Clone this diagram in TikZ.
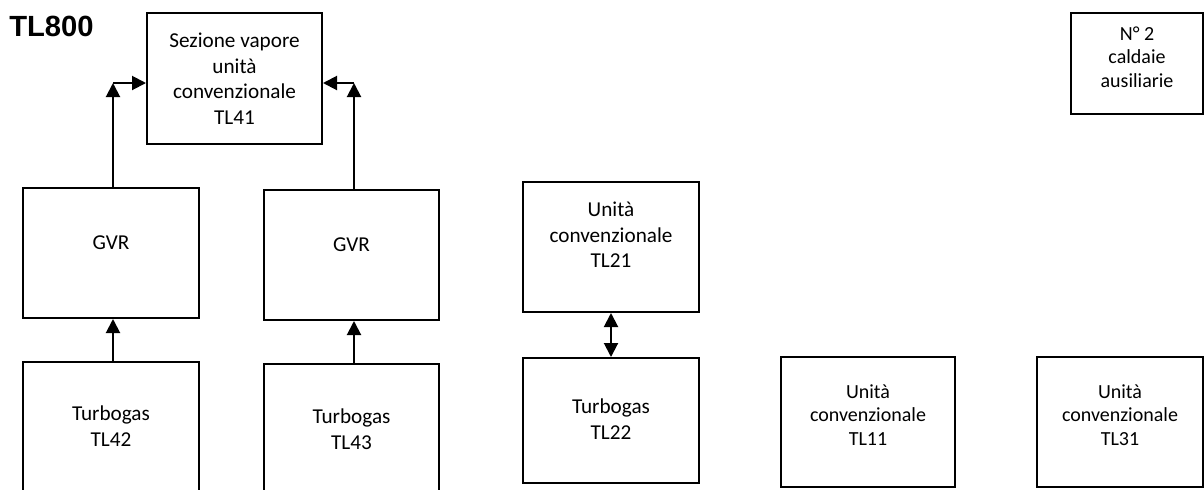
\documentclass[tikz,border=0pt]{standalone}
\usepackage{fontspec}
\setmainfont{Carlito}
\newfontfamily\arialbold{Liberation Sans}
\usetikzlibrary{arrows.meta}
\tikzset{
  box/.style={draw, line width=1pt, rectangle, inner sep=0pt},
  txt/.style={align=center, inner sep=0pt, font=\fontsize{10.6pt}{12.8pt}\selectfont},
  txts/.style={align=center, inner sep=0pt, font=\fontsize{10pt}{11.8pt}\selectfont},
  arr/.style={line width=1pt, -{Triangle[length=7pt,width=7pt]}},
  darr/.style={line width=1pt, {Triangle[length=7pt,width=7pt]}-{Triangle[length=7pt,width=7pt]}},
}
\begin{document}
\begin{tikzpicture}[x=0.5pt,y=-0.5pt]
\clip (0,0) rectangle (1204,489);
% boxes
\node[box, minimum width=87.5pt, minimum height=65.5pt] (tl41) at (234.5,78.5) {};
\node[box, minimum width=88pt, minimum height=65pt] (gvr1) at (111,253) {};
\node[box, minimum width=87.5pt, minimum height=65pt] (gvr2) at (351.5,255) {};
\node[box, minimum width=88pt, minimum height=100pt] (tg42) at (111,462) {};
\node[box, minimum width=87.5pt, minimum height=100pt] (tg43) at (351.5,464) {};
\node[box, minimum width=88pt, minimum height=65pt] (tl21) at (611,247) {};
\node[box, minimum width=88pt, minimum height=62.5pt] (tl22) at (611,420.5) {};
\node[box, minimum width=87pt, minimum height=65pt] (tl11) at (868,422) {};
\node[box, minimum width=83pt, minimum height=65pt] (tl31) at (1120,422) {};
\node[box, minimum width=66pt, minimum height=50.5pt] (aux) at (1137,63.5) {};
% texts
\node[inner sep=0pt, font=\arialbold\bfseries\fontsize{14.6pt}{16pt}\selectfont] (title) at (51.5,26) {TL800};
\node[txt] (t41) at (tl41.center) {Sezione vapore\\unità\\convenzionale\\TL41};
\node[txt] (tg1) at (111,243) {GVR};
\node[txt] (tg2) at (351.5,245) {GVR};
\node[txt] (t42) at (111,426) {Turbogas\\TL42};
\node[txt] (t43) at (351.5,429) {Turbogas\\TL43};
\node[txt] (t21) at (611,235) {Unità\\convenzionale\\TL21};
\node[txt] (t22) at (611,419) {Turbogas\\TL22};
\node[txts] (t11) at (868,415) {Unità\\convenzionale\\TL11};
\node[txts] (t31) at (1120,415) {Unità\\convenzionale\\TL31};
\node[txts] (taux) at (1137,57) {N° 2\\caldaie\\ausiliarie};
% connectors
\coordinate (c1) at (113,83);
\coordinate (c2) at (354,83);
\draw[arr] (gvr1.north -| c1) -- (c1);
\draw[arr] (c1) -- (tl41.west |- c1);
\draw[arr] (gvr2.north -| c2) -- (c2);
\draw[arr] (c2) -- (tl41.east |- c2);
\draw[arr] (tg42.north -| c1) -- (gvr1.south -| c1);
\draw[arr] (tg43.north -| c2) -- (gvr2.south -| c2);
\draw[darr] (tl21.south) -- (tl22.north);
\end{tikzpicture}
\end{document}
